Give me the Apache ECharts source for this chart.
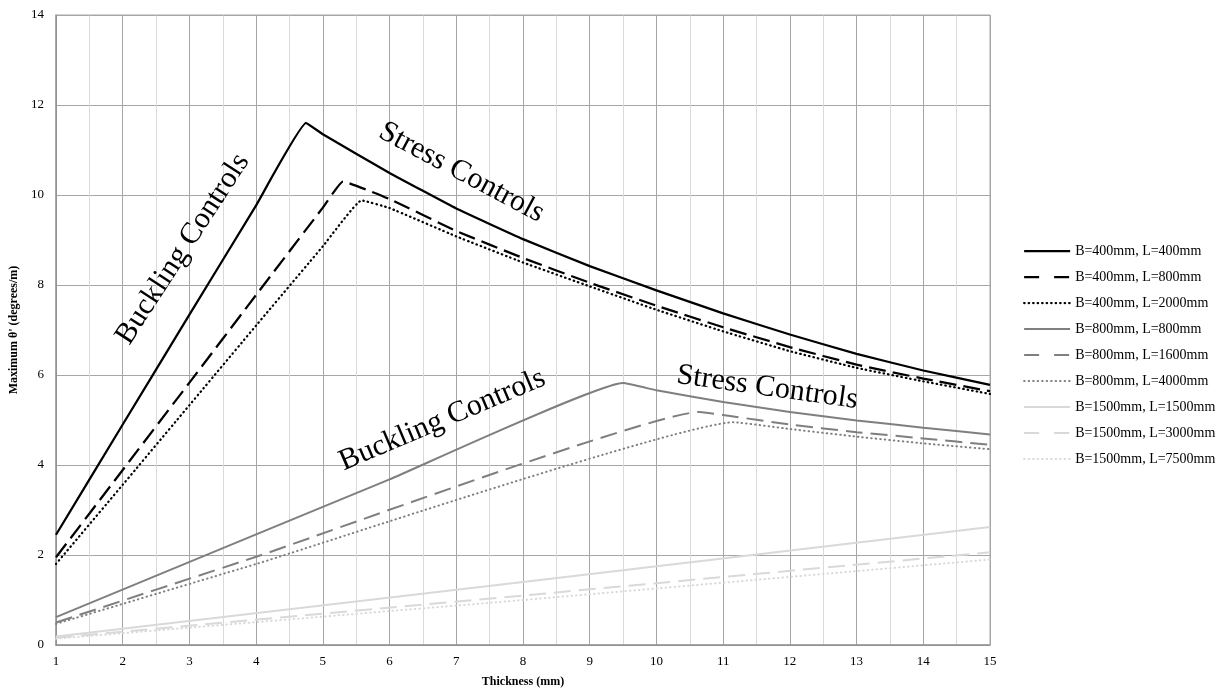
<!DOCTYPE html>
<html>
<head>
<meta charset="utf-8">
<script src="https://cdn.jsdelivr.net/npm/echarts@6/dist/echarts.min.js"></script>
<style>
  html, body { margin: 0; padding: 0; background: #fff; }
  #chart { width: 1223px; height: 693px; }
</style>
</head>
<body>
<div id="chart"></div>
<script>
// Maximum curvature vs plate thickness, [thickness (mm), degrees/m]
const b400_l400 = [[1, 2.45], [2, 4.9], [3, 7.34], [4, 9.77], [4.75, 11.6], [5, 11.35], [6, 10.49], [7, 9.7], [8, 9.02], [9, 8.42], [10, 7.88], [11, 7.37], [12, 6.9], [13, 6.47], [14, 6.1], [15, 5.78]];
const b400_l800 = [[1, 1.95], [2, 3.89], [3, 5.83], [4, 7.78], [5, 9.72], [5.3, 10.3], [6, 9.91], [7, 9.2], [8, 8.6], [9, 8.05], [10, 7.54], [11, 7.06], [12, 6.62], [13, 6.23], [14, 5.92], [15, 5.64]];
const b400_l2000 = [[1, 1.8], [2, 3.56], [3, 5.33], [4, 7.1], [5, 8.86], [5.58, 9.88], [6, 9.71], [7, 9.08], [8, 8.5], [9, 7.97], [10, 7.45], [11, 6.97], [12, 6.53], [13, 6.16], [14, 5.86], [15, 5.58]];
const b800_l800 = [[1, 0.62], [4, 2.46], [6, 3.68], [9.5, 5.82], [10, 5.66], [11, 5.4], [12, 5.18], [13, 4.99], [14, 4.83], [15, 4.68]];
const b800_l1600 = [[1, 0.5], [4, 1.96], [10.65, 5.18], [11, 5.11], [12, 4.9], [13, 4.73], [14, 4.59], [15, 4.45]];
const b800_l4000 = [[1, 0.47], [4, 1.8], [11.16, 4.95], [12, 4.8], [13, 4.63], [14, 4.48], [15, 4.35]];
const b1500_l1500 = [[1, 0.19], [8, 1.4], [15, 2.62]];
const b1500_l3000 = [[1, 0.16], [8, 1.1], [15, 2.06]];
const b1500_l7500 = [[1, 0.14], [8, 1.0], [15, 1.9]];

const seriesNames = [
  'B=400mm, L=400mm', 'B=400mm, L=800mm', 'B=400mm, L=2000mm',
  'B=800mm, L=800mm', 'B=800mm, L=1600mm', 'B=800mm, L=4000mm',
  'B=1500mm, L=1500mm', 'B=1500mm, L=3000mm', 'B=1500mm, L=7500mm'
];
const seriesData = [b400_l400, b400_l800, b400_l2000, b800_l800, b800_l1600, b800_l4000, b1500_l1500, b1500_l3000, b1500_l7500];

// Region annotations placed in data coordinates: [text, thickness, value, angle in degrees]
const annotations = [
  ['Buckling Controls', 2.9, 8.8, 57],
  ['Stress Controls', 7.08, 10.5, -28],
  ['Buckling Controls', 6.79, 5.0, 23],
  ['Stress Controls', 11.66, 5.72, -8]
];

const FONT = '"Liberation Serif", "Times New Roman", serif';
const colors = ['#000000', '#000000', '#000000', '#7f7f7f', '#7f7f7f', '#7f7f7f', '#d9d9d9', '#d9d9d9', '#d9d9d9'];
const dashes = ['solid', [17, 7], [0.5, 4], 'solid', [17, 8], [0.5, 4], 'solid', [17, 8], [0.5, 4]];
// Legend samples use a longer gap so that two dashes fit in each sample
const legendDashes = ['solid', [15, 15], [0.5, 4], 'solid', [15, 15], [0.5, 4], 'solid', [15, 15], [0.5, 4]];

const chart = echarts.init(document.getElementById('chart'), null, { renderer: 'canvas' });

const series = seriesData.map((d, i) => ({
  name: seriesNames[i],
  type: 'line',
  data: d,
  showSymbol: false,
  symbol: 'none',
  smooth: 0.1,
  animation: false,
  lineStyle: {
    color: colors[i],
    width: i < 3 ? 2.25 : 2,
    type: dashes[i],
    cap: (i % 3 === 2) ? 'round' : 'butt'
  },
  itemStyle: { color: colors[i] }
}));

chart.setOption({
  animation: false,
  backgroundColor: '#ffffff',
  grid: { left: 54, right: 233, top: 15, bottom: 47, containLabel: false },
  legend: {
    orient: 'vertical',
    left: 1018,
    top: 239,
    itemWidth: 46,
    itemHeight: 14,
    itemGap: 12,
    itemTextGap: 6,
    itemStyle: { opacity: 0 },
    textStyle: { fontFamily: FONT, fontSize: 14, color: '#000' },
    data: seriesNames.map((n, i) => ({
      name: n,
      lineStyle: { type: legendDashes[i], color: colors[i], width: i < 3 ? 2.25 : 2 }
    }))
  },
  xAxis: {
    type: 'value',
    min: 1, max: 15, interval: 1,
    name: 'Thickness (mm)',
    nameLocation: 'middle',
    nameGap: 31,
    nameTextStyle: { fontFamily: FONT, fontSize: 12, fontWeight: 'bold', color: '#000' },
    axisLine: { show: true, lineStyle: { color: '#8c8c8c', width: 1.5 } },
    axisTick: { show: false },
    axisLabel: { fontFamily: FONT, fontSize: 13, color: '#000', margin: 10 },
    splitLine: { show: true, lineStyle: { color: '#a6a6a6', width: 1 } },
    minorTick: { show: false, splitNumber: 2 },
    minorSplitLine: { show: true, lineStyle: { color: '#d9d9d9', width: 1 } }
  },
  yAxis: {
    type: 'value',
    min: 0, max: 14, interval: 2,
    name: "Maximum θ' (degrees/m)",
    nameLocation: 'middle',
    nameRotate: 90,
    nameGap: 36,
    nameTextStyle: { fontFamily: FONT, fontSize: 12, fontWeight: 'bold', color: '#000' },
    axisLine: { show: true, lineStyle: { color: '#8c8c8c', width: 1.5 } },
    axisTick: { show: false },
    axisLabel: { fontFamily: FONT, fontSize: 13, color: '#000', margin: 12 },
    splitLine: { show: true, lineStyle: { color: '#a6a6a6', width: 1 } }
  },
  series: series
});

// Frame on the top and right edges of the plot, plus the rotated region labels
const tl = chart.convertToPixel({ gridIndex: 0 }, [1, 14]);
const br = chart.convertToPixel({ gridIndex: 0 }, [15, 0]);
const graphics = annotations.map(([text, x, y, deg]) => {
  const p = chart.convertToPixel({ gridIndex: 0 }, [x, y]);
  return {
    type: 'text',
    x: p[0], y: p[1],
    rotation: deg * Math.PI / 180,
    z: 10,
    style: {
      text: text,
      fontFamily: FONT,
      fontSize: 30,
      fill: '#000',
      align: 'center',
      verticalAlign: 'middle'
    }
  };
});
graphics.push({
  type: 'polyline',
  z: 1,
  silent: true,
  shape: { points: [[tl[0], tl[1]], [br[0], tl[1]], [br[0], br[1]]] },
  style: { stroke: '#a6a6a6', lineWidth: 1, fill: null }
});
chart.setOption({ graphic: graphics });
</script>
</body>
</html>
